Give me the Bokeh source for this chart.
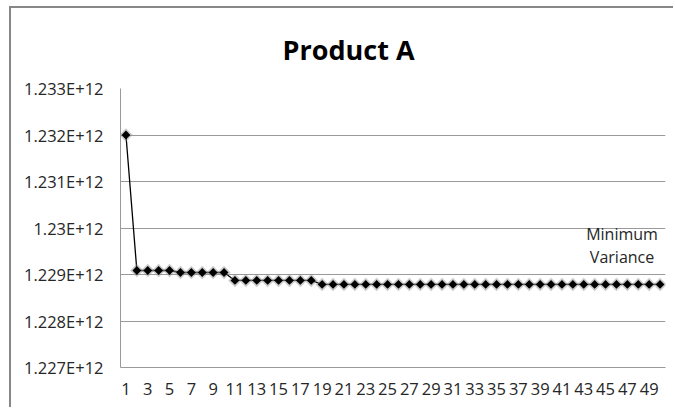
import math
from bokeh.plotting import figure
from bokeh.models import Range1d, FixedTicker, Label
from bokeh.embed import file_html
from bokeh.resources import INLINE

# ---- data ----
periods = list(range(1, 51))
variance = ([1.232e12]
            + [1.229086e12] * 4
            + [1.229043e12] * 5
            + [1.228872e12] * 8
            + [1.228786e12] * 32)
y_ticks = [1.227e12, 1.228e12, 1.229e12, 1.23e12, 1.231e12, 1.232e12, 1.233e12]
y_tick_labels = ["1.227E+12", "1.228E+12", "1.229E+12", "1.23E+12",
                 "1.231E+12", "1.232E+12", "1.233E+12"]
x_ticks = [k for k in periods if k % 2 == 1]
title_text = "Product A"
note_lines = ["Minimum", "Variance"]

FONT = "Open Sans"
TXT = "#262626"
GRID = "#9a9a9a"

p = figure(width=664, height=401, output_backend="svg", toolbar_location=None,
           x_range=Range1d(0.5, 50.5), y_range=Range1d(y_ticks[0], y_ticks[-1]),
           min_border_left=109, min_border_right=10, min_border_top=79,
           min_border_bottom=42, title=title_text)
p.outline_line_color = None
p.styles = {"margin-left": "9px", "margin-top": "6px",
            "border-left": "2px solid #878787", "border-top": "2px solid #878787"}

p.title.align = "left"
p.title.offset = 162
p.title.standoff = 41
p.title.text_font = FONT
p.title.text_font_style = "bold"
p.title.text_font_size = "27px"
p.title.text_color = "black"

# axes
p.yaxis.ticker = FixedTicker(ticks=y_ticks)
p.yaxis.major_label_overrides = {int(t): l for t, l in zip(y_ticks, y_tick_labels)}
p.xaxis.ticker = FixedTicker(ticks=x_ticks)
for ax in (p.xaxis, p.yaxis):
    ax.major_tick_in = 0
    ax.major_tick_out = 0
    ax.minor_tick_in = 0
    ax.minor_tick_out = 0
    ax.axis_line_color = GRID
    ax.major_label_text_font = FONT
    ax.major_label_text_font_size = "16.5px"
    ax.major_label_text_color = TXT
p.yaxis.major_label_standoff = 17
p.xaxis.major_label_standoff = 15
p.xgrid.grid_line_color = None
p.ygrid.grid_line_color = GRID
p.ygrid.grid_line_width = 1

# series
p.line(periods, variance, line_color="black", line_width=1.3)
p.scatter(periods, variance, marker="square", angle=math.pi / 4, size=9.5,
          fill_color="#8a8a8a", fill_alpha=0.45, line_color=None)
p.scatter(periods, variance, marker="square", angle=math.pi / 4, size=6.2,
          fill_color="black", line_color=None)

# data label for the last point
for i, t in enumerate(note_lines):
    p.add_layout(Label(x=periods[-1], y=variance[-1], text=t, x_offset=-38,
                       y_offset=50 - 22.5 * i, text_align="center",
                       text_baseline="alphabetic", text_font=FONT,
                       text_font_size="16px", text_color=TXT))

open("out.html", "w").write(file_html(p, INLINE))
